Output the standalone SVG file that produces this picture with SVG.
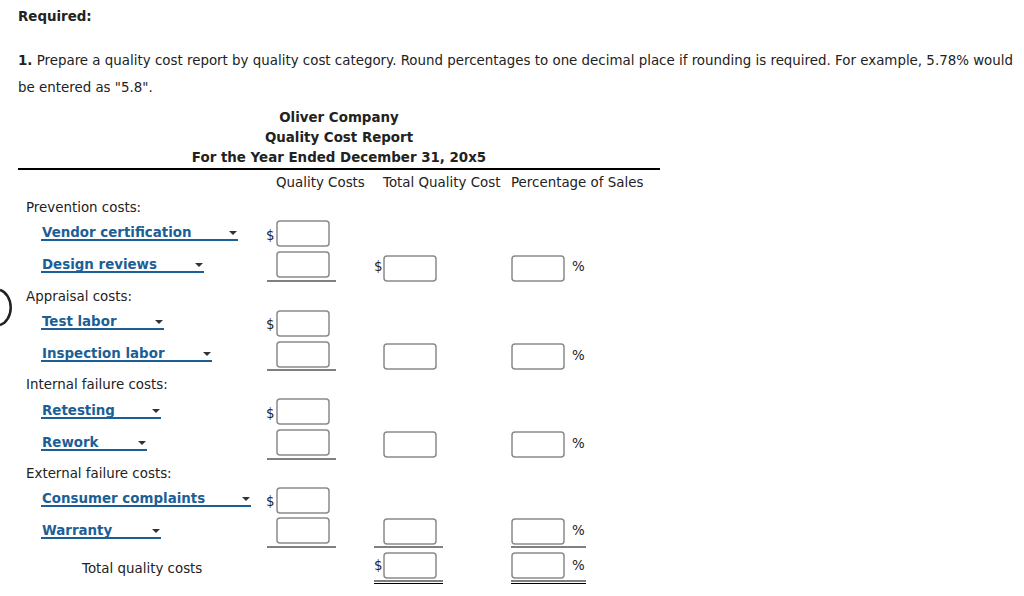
<svg xmlns="http://www.w3.org/2000/svg" width="1024" height="596" viewBox="0 0 1024 596">
<style>
text{font-family:"DejaVu Sans",Verdana,sans-serif;font-size:13.4px;fill:#222}
.b{font-weight:bold}
.dd{font-weight:bold;fill:#1c5f96;font-size:13.4px}
.ul{stroke:#1c5f96;stroke-width:2}
.bx{fill:#fff;stroke:#8a8a8a;stroke-width:1.5}
.ln{stroke:#000;stroke-width:1}
.ar{fill:#333}
</style>
<rect width="1024" height="596" fill="#fff"/>
<text x="18" y="21" class="b">Required:</text>
<text x="18" y="65"><tspan class="b">1.</tspan> Prepare a quality cost report by quality cost category. Round percentages to one decimal place if rounding is required. For example, 5.78% would</text>
<text x="18" y="92">be entered as "5.8".</text>
<text x="339" y="122" text-anchor="middle" class="b">Oliver Company</text>
<text x="339" y="142" text-anchor="middle" class="b">Quality Cost Report</text>
<text x="339" y="162" text-anchor="middle" class="b">For the Year Ended December 31, 20x5</text>
<line x1="18" y1="169" x2="660" y2="169" stroke="#000" stroke-width="2"/>
<text x="276" y="187">Quality Costs</text>
<text x="383" y="187">Total Quality Cost</text>
<text x="511" y="187">Percentage of Sales</text>
<path d="M0,290 A14,18 0 0 1 0,325" fill="none" stroke="#222" stroke-width="2.5"/>
<text x="26" y="212">Prevention costs:</text>
<text x="26" y="301">Appraisal costs:</text>
<text x="26" y="389">Internal failure costs:</text>
<text x="26" y="478">External failure costs:</text>
<text x="82" y="573">Total quality costs</text>
<g id="dropdowns">
<g id="d1"><text x="42" y="237" class="dd">Vendor certification</text><line x1="41" y1="240" x2="238" y2="240" class="ul"/><path d="M229,231h8l-4,4z" class="ar"/></g>
<g id="d2"><text x="42" y="269" class="dd">Design reviews</text><line x1="41" y1="272" x2="204" y2="272" class="ul"/><path d="M195,263h8l-4,4z" class="ar"/></g>
<g id="d3"><text x="42" y="326" class="dd">Test labor</text><line x1="41" y1="329" x2="164" y2="329" class="ul"/><path d="M155,320h8l-4,4z" class="ar"/></g>
<g id="d4"><text x="42" y="358" class="dd">Inspection labor</text><line x1="41" y1="361" x2="212" y2="361" class="ul"/><path d="M203,352h8l-4,4z" class="ar"/></g>
<g id="d5"><text x="42" y="415" class="dd">Retesting</text><line x1="41" y1="418" x2="161" y2="418" class="ul"/><path d="M152,409h8l-4,4z" class="ar"/></g>
<g id="d6"><text x="42" y="447" class="dd">Rework</text><line x1="41" y1="450" x2="147" y2="450" class="ul"/><path d="M138,441h8l-4,4z" class="ar"/></g>
<g id="d7"><text x="42" y="503" class="dd">Consumer complaints</text><line x1="41" y1="506" x2="251" y2="506" class="ul"/><path d="M242,497h8l-4,4z" class="ar"/></g>
<g id="d8"><text x="42" y="535" class="dd">Warranty</text><line x1="41" y1="538" x2="161" y2="538" class="ul"/><path d="M152,529h8l-4,4z" class="ar"/></g>
</g>
<g id="inputs">
<text x="266" y="240">$</text><rect x="277" y="221" width="52" height="25" rx="3" class="bx"/>
<rect x="277" y="252" width="52" height="25" rx="3" class="bx"/>
<text x="374" y="271">$</text><rect x="384" y="256" width="52" height="25" rx="3" class="bx"/>
<rect x="512" y="256" width="52" height="25" rx="3" class="bx"/><text x="572" y="271">%</text>
<text x="266" y="329">$</text><rect x="277" y="311" width="52" height="25" rx="3" class="bx"/>
<rect x="277" y="342" width="52" height="25" rx="3" class="bx"/>
<rect x="384" y="344" width="52" height="25" rx="3" class="bx"/>
<rect x="512" y="344" width="52" height="25" rx="3" class="bx"/><text x="572" y="360">%</text>
<text x="266" y="418">$</text><rect x="277" y="399" width="52" height="25" rx="3" class="bx"/>
<rect x="277" y="430" width="52" height="25" rx="3" class="bx"/>
<rect x="384" y="432" width="52" height="25" rx="3" class="bx"/>
<rect x="512" y="432" width="52" height="25" rx="3" class="bx"/><text x="572" y="448">%</text>
<text x="266" y="506">$</text><rect x="277" y="488" width="52" height="25" rx="3" class="bx"/>
<rect x="277" y="518" width="52" height="25" rx="3" class="bx"/>
<rect x="384" y="519" width="52" height="25" rx="3" class="bx"/>
<rect x="512" y="519" width="52" height="25" rx="3" class="bx"/><text x="572" y="535">%</text>
<text x="374" y="570">$</text><rect x="384" y="553" width="52" height="25" rx="3" class="bx"/>
<rect x="512" y="553" width="52" height="25" rx="3" class="bx"/><text x="572" y="570">%</text>
</g>
<g id="rules">
<line x1="267" y1="281" x2="336" y2="281" class="ln"/>
<line x1="267" y1="370" x2="336" y2="370" class="ln"/>
<line x1="267" y1="459" x2="336" y2="459" class="ln"/>
<line x1="267" y1="547" x2="336" y2="547" class="ln"/>
<line x1="374" y1="547" x2="443" y2="547" class="ln"/>
<line x1="511" y1="547" x2="586" y2="547" class="ln"/>
<line x1="374" y1="581" x2="443" y2="581" class="ln"/><line x1="374" y1="583.5" x2="443" y2="583.5" class="ln"/>
<line x1="511" y1="581" x2="586" y2="581" class="ln"/><line x1="511" y1="583.5" x2="586" y2="583.5" class="ln"/>
</g>
</svg>
